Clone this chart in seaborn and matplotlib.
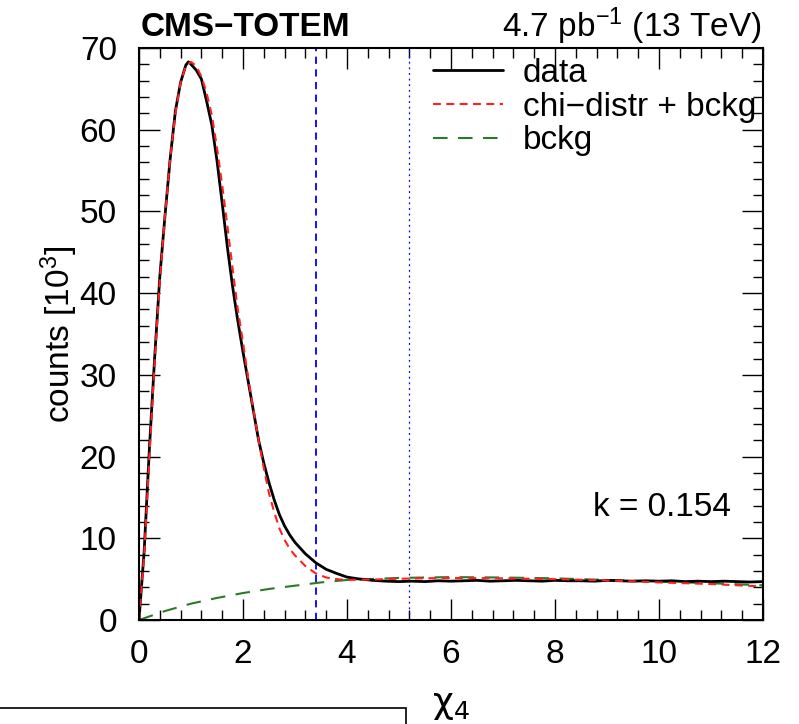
import matplotlib
matplotlib.use("Agg")
import matplotlib.pyplot as plt
import seaborn as sns
import pandas as pd
from matplotlib.patches import Polygon
from matplotlib.ticker import MultipleLocator

# ---- data ----
x_data = [0.0, 0.1, 0.2, 0.3, 0.4, 0.5, 0.6, 0.7, 0.8, 0.9, 0.95, 1.0, 1.1, 1.2, 1.3,
          1.4, 1.5, 1.6, 1.7, 1.8, 1.9, 2.0, 2.1, 2.2, 2.3, 2.4, 2.5, 2.6, 2.7, 2.8,
          2.9, 3.0, 3.2, 3.4, 3.6, 3.8, 4.0, 4.2, 4.5, 4.75, 5.0, 5.25, 5.5, 5.75,
          6.0, 6.25, 6.5, 6.75, 7.0, 7.25, 7.5, 7.75, 8.0, 8.25, 8.5, 8.75, 9.0,
          9.25, 9.5, 9.75, 10.0, 10.25, 10.5, 10.75, 11.0, 11.25, 11.5, 11.75, 12.0]
y_data = [0.0, 8.5, 21.0, 32.0, 42.0, 49.5, 56.5, 62.3, 65.8, 67.9, 68.3, 68.0, 67.3, 66.2, 63.5,
          60.6, 56.2, 51.0, 45.6, 40.8, 36.6, 32.8, 29.2, 25.6, 22.0, 19.2, 16.8, 14.7, 12.9, 11.5,
          10.4, 9.5, 8.1, 7.0, 6.2, 5.7, 5.25, 5.05, 4.85, 4.75, 4.7, 4.75, 4.7, 4.8,
          4.75, 4.8, 4.85, 4.75, 4.8, 4.85, 4.8, 4.75, 4.85, 4.8, 4.8, 4.75, 4.85,
          4.8, 4.75, 4.8, 4.75, 4.8, 4.7, 4.75, 4.7, 4.75, 4.7, 4.65, 4.7]

x_fit = [0.0, 0.1, 0.2, 0.3, 0.4, 0.5, 0.6, 0.7, 0.8, 0.9, 1.0, 1.1, 1.2, 1.3, 1.4,
         1.5, 1.6, 1.7, 1.8, 1.9, 2.0, 2.1, 2.2, 2.3, 2.4, 2.5, 2.6, 2.7, 2.8, 2.9,
         3.0, 3.2, 3.4, 3.6, 3.8, 4.0, 4.5, 5.0, 6.0, 7.0, 8.0, 9.0, 10.0, 11.0, 12.0]
y_fit = [0.0, 8.0, 20.0, 31.5, 41.5, 49.5, 56.5, 62.0, 65.8, 67.8, 68.3, 67.8, 66.5, 64.5, 61.8,
         57.8, 53.2, 48.2, 43.0, 38.0, 34.0, 29.6, 25.7, 22.0, 18.6, 15.5, 13.2, 11.2, 9.8, 8.7,
         7.9, 6.6, 5.7, 5.2, 5.0, 4.9, 4.95, 5.05, 5.15, 5.1, 5.0, 4.85, 4.6, 4.4, 4.1]

x_bkg = [0.0, 0.5, 1.0, 1.5, 2.0, 2.5, 3.0, 3.5, 4.0, 5.0, 6.0, 7.0, 8.0, 9.0, 10.0, 11.0, 12.0]
y_bkg = [0.0, 1.1, 2.0, 2.7, 3.3, 3.8, 4.2, 4.6, 4.9, 5.15, 5.25, 5.2, 5.1, 4.9, 4.7, 4.5, 4.25]

x_cut_dashed = 3.4
x_cut_dotted = 5.2
k_label = "k = 0.154"

df_data = pd.DataFrame({"x": x_data, "y": y_data})
df_fit = pd.DataFrame({"x": x_fit, "y": y_fit})
df_bkg = pd.DataFrame({"x": x_bkg, "y": y_bkg})

sns.set_theme(style="white")
plt.rcParams["font.family"] = ["Liberation Sans", "DejaVu Sans"]
plt.rcParams["mathtext.fontset"] = "custom"
plt.rcParams["mathtext.rm"] = "Liberation Sans"
plt.rcParams["mathtext.it"] = "Liberation Sans:italic"
plt.rcParams["text.color"] = "black"
plt.rcParams["xtick.color"] = "black"
plt.rcParams["ytick.color"] = "black"
plt.rcParams["xtick.labelcolor"] = "black"
plt.rcParams["ytick.labelcolor"] = "black"

fig = plt.figure(figsize=(7.99, 7.24), dpi=100)
ax = fig.add_axes([139 / 799, 1 - 620 / 724, (763 - 139) / 799, (620 - 48) / 724])

ax.axvline(x_cut_dashed, color="blue", lw=1.3, dashes=(4, 3))
ax.axvline(x_cut_dotted, color="blue", lw=0.9, dashes=(1.5, 3))

sns.lineplot(data=df_bkg, x="x", y="y", ax=ax, color="#2a7a2a", lw=1.5,
             label="bckg", estimator=None, sort=False)
sns.lineplot(data=df_data, x="x", y="y", ax=ax, color="black", lw=2.0,
             label="data", estimator=None, sort=False)
sns.lineplot(data=df_fit, x="x", y="y", ax=ax, color="#ff2020", lw=1.5,
             label="chi\u2212distr + bckg", estimator=None, sort=False)
ax.lines[2].set_dashes((7, 5))
ax.lines[4].set_dashes((3.8, 2.6))

ax.set_xlim(0, 12)
ax.set_ylim(0, 70)
ax.xaxis.set_major_locator(MultipleLocator(2))
ax.xaxis.set_minor_locator(MultipleLocator(0.4))
ax.yaxis.set_major_locator(MultipleLocator(10))
ax.yaxis.set_minor_locator(MultipleLocator(2))
ax.tick_params(which="both", direction="in", top=True, right=True, bottom=True, left=True,
               color="black", width=1.0, labelcolor="black")
ax.tick_params(which="major", length=15, labelsize=24)
ax.tick_params(which="minor", length=7)
ax.tick_params(axis="y", which="major", pad=16)
ax.tick_params(axis="x", which="major", pad=14)
for s in ax.spines.values():
    s.set_color("black")
    s.set_linewidth(1.5)

ax.set_xlabel("")
ax.set_ylabel("")
fig.text(451 / 799, 1 - 713 / 724, "\u03c7$_{\\mathregular{4}}$", fontsize=26,
         family=["DejaVu Sans"], ha="center", va="baseline")
fig.text(70 / 799, 1 - 334 / 724, r"counts [10$^{\mathregular{3}}$]", fontsize=24,
         rotation=90, ha="center", va="baseline", rotation_mode="anchor")

handles, labels = ax.get_legend_handles_labels()
order = [labels.index("data"), labels.index("chi\u2212distr + bckg"), labels.index("bckg")]
leg = ax.legend([handles[i] for i in order], [labels[i] for i in order],
                loc="upper left", bbox_to_anchor=(433 / 799, 1 - 58 / 724),
                bbox_transform=fig.transFigure, frameon=False, fontsize=24,
                handlelength=2.1, handletextpad=0.6, labelspacing=0.08,
                borderpad=0, borderaxespad=0)

fig.text(141 / 799, 1 - 36 / 724, "CMS\u2212TOTEM", fontsize=24, fontweight="bold",
         ha="left", va="baseline")
fig.text(762 / 799, 1 - 37 / 724, r"4.7 pb$^{\mathregular{-1}}$ (13 TeV)", fontsize=24,
         ha="right", va="baseline")
ax.text(8.73, 12.7, k_label, fontsize=24, ha="left", va="baseline")

# partial frame of a box at the bottom-left
fig.add_artist(Polygon([[0, 1 - 708 / 724], [406 / 799, 1 - 708 / 724], [406 / 799, 0]],
                       closed=False, fill=False, edgecolor="black", lw=1.2,
                       transform=fig.transFigure))

fig.savefig("out.png", dpi=100)
